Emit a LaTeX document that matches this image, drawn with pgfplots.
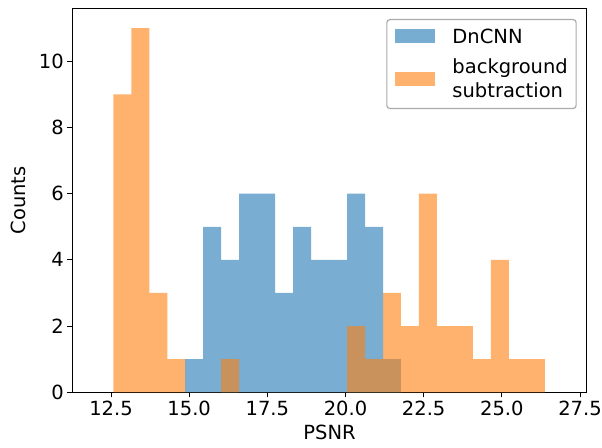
\documentclass[border=0pt]{standalone}
\usepackage{pgfplots}
\pgfplotsset{compat=1.18}
\usepackage{fontspec}
\setmainfont{DejaVu Sans}
\definecolor{c0}{HTML}{1F77B4}
\definecolor{c1}{HTML}{FF7F0E}
\definecolor{legframe}{HTML}{ABABAB}
\newcommand{\fs}{\fontsize{19.5}{23.4}\selectfont}
\newcommand{\cbox}[1]{\sbox0{#1}\raisebox{\dimexpr(\dp0-\ht0)/2\relax}{\usebox0}}
\begin{document}
\begin{tikzpicture}
\begin{axis}[
  scale only axis,
  width=514.4pt, height=384pt,
  xmin=11.262, xmax=27.714,
  ymin=0, ymax=11.6,
  xtick={12.5,15,17.5,20,22.5,25,27.5},
  ytick={0,2,4,6,8,10},
  xtick pos=left, ytick pos=left,
  tick align=outside,
  major tick length=5pt,
  every tick/.style={black, line width=0.9pt},
  axis line style={line width=0.9pt},
  /pgf/number format/assume math mode=true,
  xticklabel style={/pgf/number format/.cd, fixed, fixed zerofill, precision=1},
  ticklabel style={font=\fs},
  label style={font=\fs},
  xlabel={PSNR},
  ylabel={Counts},
  xlabel shift=3pt,
  ylabel shift=6pt,
  legend cell align=left,
  legend style={at={(1,1)}, anchor=north east, xshift=-10pt, yshift=-10.7pt,
    draw=legframe, line width=1.2pt, rounded corners=3pt, fill=white, font=\fs,
    inner xsep=8.3pt, inner ysep=4.3pt, row sep=14pt, column sep=17.3pt,
    nodes={inner sep=0pt, text depth=, text height=}},
]
\addplot[ybar interval, fill=c0, fill opacity=0.6, draw=none, forget plot]
  coordinates {
  (14.874,1) (15.449,5) (16.024,4) (16.599,6) (17.174,6) (17.749,3)
  (18.324,5) (18.899,4) (19.474,4) (20.049,6) (20.624,5) (21.199,1)
  (21.774,1)};
\addplot[ybar interval, fill=c1, fill opacity=0.6, draw=none, forget plot]
  coordinates {
  (12.574,9) (13.149,11) (13.724,3) (14.299,1) (14.874,0) (15.449,0)
  (16.024,1) (16.599,0) (17.174,0) (17.749,0) (18.324,0) (18.899,0)
  (19.474,0) (20.049,2) (20.624,1) (21.199,3) (21.774,2) (22.349,6)
  (22.924,2) (23.499,2) (24.074,1) (24.649,4) (25.224,1) (25.799,1)
  (26.374,1)};
\addlegendimage{legend image code/.code={\fill[c0, fill opacity=0.6, sharp corners, draw=none] (0pt,-9.5pt) rectangle (40pt,4.5pt);}}
\addlegendentry{\cbox{\rule{0pt}{19.2pt}DnCNN}}
\addlegendimage{legend image code/.code={\fill[c1, fill opacity=0.6, sharp corners, draw=none] (0pt,-5.5pt) rectangle (40pt,8.5pt);}}
\addlegendentry{\cbox{\begin{tabular}{@{}l@{}}background\\subtraction\end{tabular}}}
\end{axis}
\pgfresetboundingbox
\path (-72.3pt,-54.7pt) rectangle (529.7pt,392.3pt);
\end{tikzpicture}
\end{document}
